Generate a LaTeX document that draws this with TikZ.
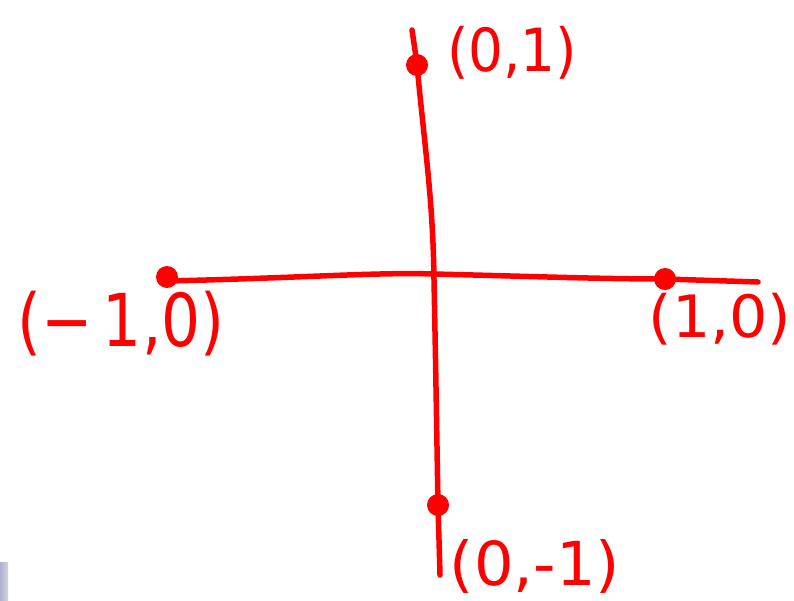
\documentclass[tikz,border=0pt]{standalone}
\usepackage{fontspec}
\usepackage{graphicx}
\setmainfont{DejaVu Sans}
\definecolor{pen}{RGB}{255,0,0}
\newcommand{\handlab}[3]{\resizebox*{#1}{#2}{#3}}
\begin{document}
\begin{tikzpicture}[x=1pt,y=-1pt,
  stroke/.style={draw=pen,line width=5.5pt,line cap=round,line join=round},
  ptdot/.style={circle,fill=pen,inner sep=0pt,minimum size=22pt},
  lbl/.style={text=pen,inner sep=0pt,font=\fontsize{44}{44}\selectfont}]
\useasboundingbox (0,0) rectangle (794,600);
\fill[white] (0,0) rectangle (794,600);
% small artifact bottom-left
\fill[left color=blue!25!gray!50,right color=blue!10!gray!30] (0,562) rectangle (8,600);
% coordinates
\coordinate (vtop) at (412,30);
\coordinate (vbot) at (440,575);
\coordinate (hleft) at (167,281);
\coordinate (hright) at (758,282);
% dots
\node[ptdot] (p01) at (417,65) {};
\node[ptdot] (pm10) at (167,277) {};
\node[ptdot] (p10) at (665,279) {};
\node[ptdot] (p0m1) at (438,505) {};
% axes
\draw[stroke] (vtop) .. controls (415,50) .. (p01.center)
  .. controls (425,150) and (433,200) .. (434,280)
  .. controls (436,380) and (437,450) .. (p0m1.center)
  -- (vbot);
\draw[stroke] (hleft) .. controls (300,278) and (380,272) .. (433,274)
  .. controls (520,276) and (600,279) .. (p10.center) -- (hright);
% labels
\node[lbl] (l01) at (512,53) {\handlab{130pt}{53pt}{(0,1)}};
\node[lbl] (lm10) at (121,324) {\handlab{207pt}{65pt}{(−\,1,0)}};
\node[lbl] (l10) at (720,319) {\handlab{143pt}{52pt}{(1,0)}};
\node[lbl] (l0m1) at (535,566) {\handlab{170pt}{54pt}{(0,-1)}};
\end{tikzpicture}
\end{document}
